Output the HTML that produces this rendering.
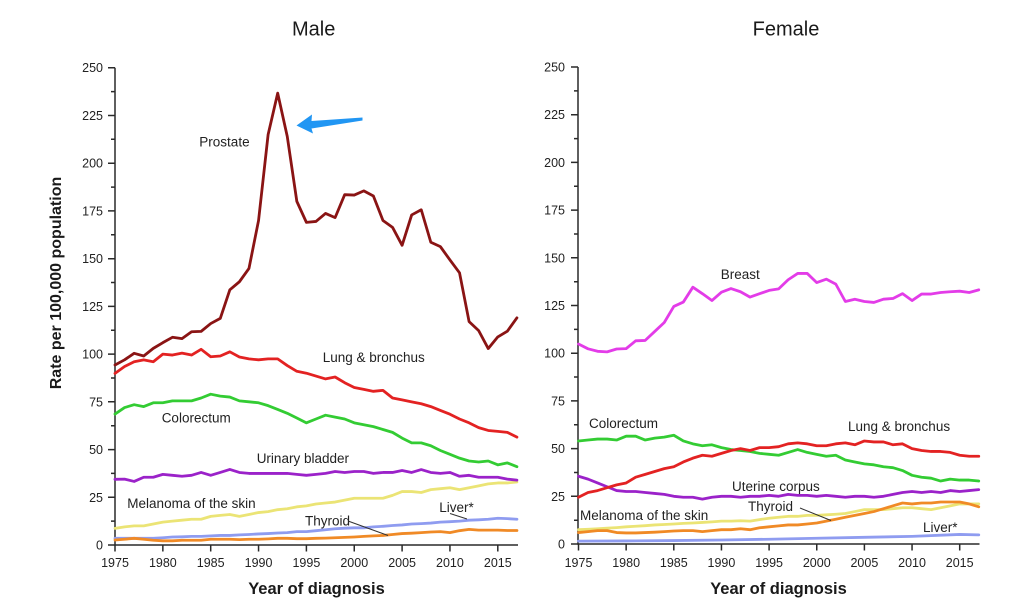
<!DOCTYPE html>
<html><head><meta charset="utf-8"><style>
html,body{margin:0;padding:0;background:#fff;}
svg{display:block;font-family:"Liberation Sans",Arial,sans-serif;}
.s{fill:none;stroke-width:2.8;stroke-linejoin:round;stroke-linecap:round;vector-effect:non-scaling-stroke;}
.lab{font-size:13.5px;fill:#222;}
.tk{font-size:12.5px;fill:#222;}
.ax{stroke:#2a2a2a;stroke-width:1.5;fill:none;}
</style></head><body>
<svg width="1024" height="609" viewBox="0 0 1024 609" xmlns="http://www.w3.org/2000/svg">
<rect width="1024" height="609" fill="#fff"/>
<!-- Titles -->
<text x="313.7" y="35.5" font-size="20" text-anchor="middle" fill="#1a1a1a">Male</text>
<text x="786" y="35.5" font-size="20" text-anchor="middle" fill="#1a1a1a">Female</text>
<text transform="translate(61,283) rotate(-90)" font-size="16" font-weight="bold" text-anchor="middle" fill="#1a1a1a">Rate per 100,000 population</text>
<text x="316.5" y="594" font-size="16.5" font-weight="bold" text-anchor="middle" fill="#1a1a1a">Year of diagnosis</text>
<text x="778.5" y="594" font-size="16.5" font-weight="bold" text-anchor="middle" fill="#1a1a1a">Year of diagnosis</text>

<!-- LEFT AXES -->
<g class="ax">
<path d="M115 67.7V545H518"/>
<path d="M108 545H115M108 497.3H115M108 449.6H115M108 401.8H115M108 354.1H115M108 306.4H115M108 258.7H115M108 210.9H115M108 163.2H115M108 115.5H115M108 67.7H115"/>
<path d="M111 521.1H115M111 473.4H115M111 425.7H115M111 378H115M111 330.2H115M111 282.5H115M111 234.8H115M111 187.1H115M111 139.3H115M111 91.6H115"/>
<path d="M115 545V551.5M162.85 545V551.5M210.7 545V551.5M258.55 545V551.5M306.4 545V551.5M354.25 545V551.5M402.1 545V551.5M449.95 545V551.5M497.8 545V551.5"/>
</g>
<g class="tk" text-anchor="end">
<text x="103" y="549.5">0</text><text x="103" y="501.8">25</text><text x="103" y="454.1">50</text><text x="103" y="406.3">75</text><text x="103" y="358.6">100</text><text x="103" y="310.9">125</text><text x="103" y="263.2">150</text><text x="103" y="215.4">175</text><text x="103" y="167.7">200</text><text x="103" y="120">225</text><text x="103" y="72.2">250</text>
</g>
<g class="tk" text-anchor="middle">
<text x="115" y="567">1975</text><text x="162.85" y="567">1980</text><text x="210.7" y="567">1985</text><text x="258.55" y="567">1990</text><text x="306.4" y="567">1995</text><text x="354.25" y="567">2000</text><text x="402.1" y="567">2005</text><text x="449.95" y="567">2010</text><text x="497.8" y="567">2015</text>
</g>

<!-- RIGHT AXES -->
<g class="ax">
<path d="M578 67V544H979.5"/>
<path d="M571 544H578M571 496.3H578M571 448.6H578M571 400.9H578M571 353.2H578M571 305.5H578M571 257.8H578M571 210.1H578M571 162.4H578M571 114.7H578M571 67H578"/>
<path d="M574 520.2H578M574 472.5H578M574 424.8H578M574 377H578M574 329.4H578M574 281.7H578M574 234H578M574 186.3H578M574 138.6H578M574 90.9H578"/>
<path d="M578.5 544V550.5M626.15 544V550.5M673.8 544V550.5M721.45 544V550.5M769.1 544V550.5M816.75 544V550.5M864.4 544V550.5M912.05 544V550.5M959.7 544V550.5"/>
</g>
<g class="tk" text-anchor="end">
<text x="565" y="548.5">0</text><text x="565" y="500.8">25</text><text x="565" y="453.1">50</text><text x="565" y="405.4">75</text><text x="565" y="357.7">100</text><text x="565" y="310">125</text><text x="565" y="262.3">150</text><text x="565" y="214.6">175</text><text x="565" y="166.9">200</text><text x="565" y="119.2">225</text><text x="565" y="71.5">250</text>
</g>
<g class="tk" text-anchor="middle">
<text x="578.5" y="567">1975</text><text x="626.15" y="567">1980</text><text x="673.8" y="567">1985</text><text x="721.45" y="567">1990</text><text x="769.1" y="567">1995</text><text x="816.75" y="567">2000</text><text x="864.4" y="567">2005</text><text x="912.05" y="567">2010</text><text x="959.7" y="567">2015</text>
</g>

<!-- LEFT SERIES -->
<g transform="matrix(9.57 0 0 -1.909 115 545)">
<polyline class="s" stroke="#ebe475" points="0,8.7 1,9.5 2,10 3,10 4,11 5,12 6,12.5 7,13 8,13.5 9,13.5 10,15 11,15.5 12,16 13,15 14,16 15,17 16,17.5 17,18.5 18,19 19,20 20,20.5 21,21.5 22,22 23,22.5 24,23.5 25,24.5 26,24.5 27,24.5 28,24.5 29,26 30,28 31,28 32,27.5 33,29 34,29.5 35,30 36,29 37,30 38,31 39,32 40,32.5 41,32.5 42,33"/>
<polyline class="s" stroke="#8f9cf0" points="0,3.5 1,3.5 2,3.5 3,3.5 4,3.5 5,3.8 6,4.2 7,4.3 8,4.5 9,4.5 10,4.8 11,5 12,5 13,5.3 14,5.5 15,5.8 16,6 17,6.3 18,6.5 19,7 20,7 21,7.5 22,8 23,8.5 24,8.8 25,9 26,9 27,9.5 28,9.8 29,10.2 30,10.5 31,11 32,11.2 33,11.5 34,12 35,12.2 36,12.5 37,13 38,13.2 39,13.5 40,14 41,13.8 42,13.5"/>
<polyline class="s" stroke="#f08a26" points="0,2.6 1,3 2,3.5 3,3 4,2.5 5,2.2 6,2.2 7,2.5 8,2.5 9,2.5 10,3 11,3 12,3 13,2.8 14,3 15,3 16,3.2 17,3.5 18,3.5 19,3.3 20,3.3 21,3.5 22,3.6 23,3.8 24,4 25,4.2 26,4.5 27,4.8 28,5 29,5.5 30,6 31,6.2 32,6.5 33,6.8 34,7 35,6.5 36,7.5 37,8.2 38,7.8 39,7.8 40,7.8 41,7.6 42,7.6"/>
<polyline class="s" stroke="#9b22c9" points="0,34.4 1,34.5 2,33.3 3,35.5 4,35.5 5,37 6,36.5 7,36 8,36.5 9,38 10,36.5 11,38 12,39.6 13,38 14,37.5 15,37.5 16,37.5 17,37.5 18,37.5 19,37 20,36.5 21,37 22,37.5 23,38.5 24,38 25,38.5 26,38.5 27,37.5 28,38 29,38 30,39 31,38 32,39.5 33,38 34,37.5 35,38 36,36 37,36.5 38,35.5 39,35.5 40,35.5 41,34.5 42,34"/>
<polyline class="s" stroke="#33cc33" points="0,68.6 1,72 2,73.5 3,72.5 4,74.5 5,74.5 6,75.5 7,75.5 8,75.5 9,77 10,79 11,78 12,77.5 13,75.5 14,75 15,74.5 16,73 17,71 18,69 19,66.5 20,64 21,66 22,68 23,67 24,66 25,64 26,63 27,62 28,60.5 29,59 30,56 31,53.5 32,53.5 33,52 34,49.5 35,47.5 36,45.5 37,44 38,43.5 39,44 40,42 41,43 42,41"/>
<polyline class="s" stroke="#e32222" points="0,89.9 1,93.5 2,96 3,97 4,96 5,100 6,99.5 7,100.5 8,99.5 9,102.5 10,98.6 11,99 12,101.2 13,98.5 14,97.5 15,97 16,97.5 17,97.5 18,94 19,91 20,90 21,88.5 22,87 23,88 24,85 25,82.5 26,81.5 27,80.5 28,81 29,77 30,76 31,75 32,74 33,72.5 34,70.5 35,68.5 36,66 37,64 38,61.5 39,60 40,59.5 41,59 42,56.5"/>
<polyline class="s" stroke="#8a1414" points="0,94.3 1,97 2,100.4 3,99 4,103 5,106 6,108.8 7,108.1 8,111.7 9,111.9 10,116 11,118.7 12,133.7 13,137.9 14,144.9 15,170 16,215 17,236.7 18,214 19,180 20,169 21,169.5 22,173.7 23,171.5 24,183.5 25,183.3 26,185.5 27,182.8 28,170 29,166.4 30,157 31,172.9 32,175.6 33,158.6 34,156.3 35,149.3 36,142.6 37,117 38,112.3 39,102.9 40,109 41,112 42,119"/>
</g>

<!-- RIGHT SERIES -->
<g transform="matrix(9.53 0 0 -1.908 578.5 544)">
<polyline class="s" stroke="#8f9cf0" points="0,1.5 5,1.6 10,1.8 15,2.1 20,2.5 25,3 30,3.5 35,4 40,5 42,4.8"/>
<polyline class="s" stroke="#ebe475" points="0,7.5 1,7.7 2,8 3,8.3 4,8.6 5,9 6,9.3 7,9.6 8,10 9,10.2 10,10.5 11,10.8 12,11 13,11.3 14,11.6 15,12 16,12 17,12.2 18,12 19,12.8 20,13.5 21,14 22,14.5 23,14.5 24,15 25,15 26,15.3 27,15.6 28,16 29,17 30,18 31,18 32,18 33,18.5 34,19 35,19 36,18.5 37,18 38,19 39,20 40,21 41,21 42,21"/>
<polyline class="s" stroke="#f08a26" points="0,6 1,6.5 2,7 3,7 4,6 5,5.8 6,5.8 7,6 8,6.2 9,6.5 10,6.8 11,7 12,7 13,6.5 14,7 15,7.5 16,7.5 17,8 18,7.5 19,8.5 20,9 21,9.5 22,10 23,10 24,10.5 25,11 26,12 27,13 28,14 29,15 30,16 31,17 32,18.5 33,20 34,21.5 35,21 36,21.5 37,21.5 38,22 39,22 40,22 41,21 42,19.5"/>
<polyline class="s" stroke="#9b22c9" points="0,35.5 1,34 2,32 3,30 4,28 5,27.5 6,27.5 7,27 8,26.5 9,26 10,25 11,24.5 12,24.5 13,23.5 14,24.5 15,25 16,25 17,24.5 18,25 19,25 20,25.5 21,25 22,26 23,25.5 24,25.5 25,25 26,25.5 27,25 28,24.5 29,25 30,25 31,24.5 32,25 33,26 34,27 35,27.5 36,27 37,27.5 38,27 39,28 40,27.5 41,28 42,28.5"/>
<polyline class="s" stroke="#33cc33" points="0,54 1,54.5 2,55 3,55 4,54.5 5,56.5 6,56.5 7,54.5 8,55.5 9,56 10,57 11,54 12,52.5 13,51.5 14,52 15,50.5 16,49.5 17,49 18,48.5 19,47.5 20,47 21,46.5 22,48 23,49.5 24,48 25,47 26,46 27,46.5 28,44 29,43 30,42 31,41.5 32,40.5 33,40 34,38.5 35,36 36,35 37,34.5 38,33 39,34 40,33.5 41,33.5 42,33"/>
<polyline class="s" stroke="#e32222" points="0,24.5 1,27 2,28 3,29.5 4,31 5,32 6,35 7,36.5 8,38 9,39.5 10,40.5 11,43 12,45 13,46.5 14,46 15,47.5 16,49 17,50 18,49 19,50.5 20,50.5 21,51 22,52.5 23,53 24,52.5 25,51.5 26,51.5 27,52.5 28,53 29,52 30,54 31,53.5 32,53.5 33,52 34,52.5 35,50 36,49 37,48.5 38,48.5 39,48 40,46.5 41,46 42,46"/>
<polyline class="s" stroke="#e33ce8" points="0,104.8 1,102.3 2,101 3,100.7 4,102.2 5,102.4 6,106.5 7,106.7 8,111.4 9,116.1 10,124.5 11,126.8 12,134.6 13,131.2 14,127.6 15,132 16,133.9 17,132.2 18,129.4 19,131.2 20,132.9 21,133.7 22,138.5 23,141.8 24,141.8 25,137 26,138.8 27,136.2 28,127.1 29,128.3 30,127.1 31,126.6 32,128.3 33,128.7 34,131.2 35,127.6 36,131 37,131 38,131.8 39,132.2 40,132.5 41,131.8 42,133.2"/>
</g>

<!-- Leader lines -->
<g stroke="#333" stroke-width="1" fill="none">
<path d="M348 521L388 535.5"/>
<path d="M450 513.5L467 519"/>
<path d="M800 508L831 520.5"/>
</g>

<!-- LEFT LABELS -->
<text class="lab" x="199.3" y="146.5">Prostate</text>
<text class="lab" x="322.7" y="362">Lung &amp; bronchus</text>
<text class="lab" x="161.7" y="422.5">Colorectum</text>
<text class="lab" x="256.7" y="463">Urinary bladder</text>
<text class="lab" x="127.3" y="508">Melanoma of the skin</text>
<text class="lab" x="305" y="525.5">Thyroid</text>
<text class="lab" x="439.3" y="512">Liver*</text>

<!-- RIGHT LABELS -->
<text class="lab" x="720.7" y="279">Breast</text>
<text class="lab" x="589" y="428">Colorectum</text>
<text class="lab" x="848" y="431">Lung &amp; bronchus</text>
<text class="lab" x="732" y="491">Uterine corpus</text>
<text class="lab" x="748" y="511">Thyroid</text>
<text class="lab" x="580" y="520">Melanoma of the skin</text>
<text class="lab" x="923" y="532">Liver*</text>

<!-- Blue arrow -->
<polygon points="296.5,125.5 312,114.5 311.5,121 362.5,117.5 362.5,120.5 311.5,128.5 313,133.5" fill="#2196f3"/>
</svg>
</body></html>
